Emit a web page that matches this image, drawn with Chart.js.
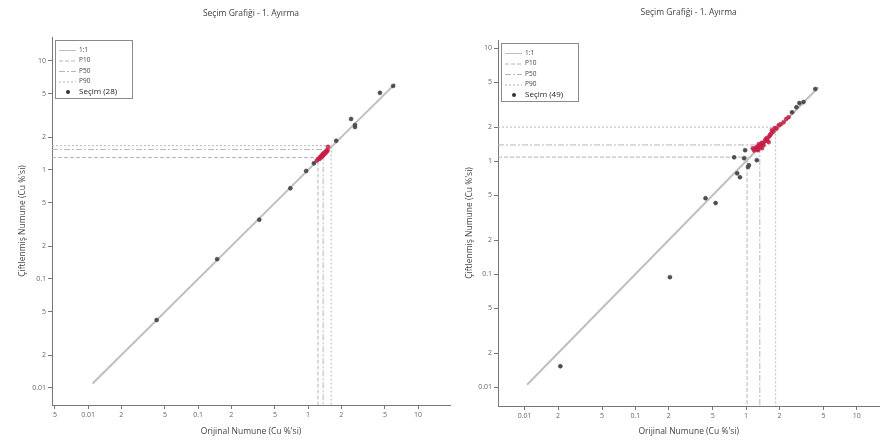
<!DOCTYPE html>
<html>
<head>
<meta charset="utf-8">
<script src="https://cdn.jsdelivr.net/npm/chart.js@4.4.1/dist/chart.umd.min.js"></script>
<style>
html, body { margin: 0; padding: 0; background: #fff; }
#wrap { position: relative; width: 884px; height: 443px; overflow: hidden; }
canvas { position: absolute; top: 0; }
</style>
</head>
<body>
<div id="wrap">
  <canvas id="c1" width="460" height="443" style="left:0"></canvas>
  <canvas id="c2" width="424" height="443" style="left:460px"></canvas>
</div>
<script>
const titleText = 'Seçim Grafiği - 1. Ayırma';
const xTitle = "Orijinal Numune (Cu %'si)";
const yTitle = "Çiftlenmiş Numune (Cu %'si)";
const tickValues = [0.005, 0.01, 0.02, 0.05, 0.1, 0.2, 0.5, 1, 2, 5, 10];
const tickLabels = ['5', '0.01', '2', '5', '0.1', '2', '5', '1', '2', '5', '10'];
const pLabels = ['P10', 'P50', 'P90'];

// grafik 1 (28 numune)
const s1X = [5.93, 4.5, 2.46, 2.67, 2.67, 1.8, 1.52, 0.96, 0.69, 0.36, 0.149, 0.042,
  1.20, 1.24, 1.27, 1.29, 1.31, 1.33, 1.35, 1.36, 1.38, 1.40, 1.42, 1.44, 1.46, 1.48, 1.50, 1.13];
const s1Y = [5.9, 5.1, 2.94, 2.59, 2.48, 1.85, 1.63, 0.98, 0.68, 0.35, 0.152, 0.042,
  1.22, 1.27, 1.26, 1.32, 1.30, 1.36, 1.34, 1.40, 1.37, 1.43, 1.41, 1.47, 1.45, 1.52, 1.50, 1.15];
const p1X = [1.23, 1.37, 1.62];
const p1Y = [1.30, 1.54, 1.67];
const line1 = [0.011, 6.2];

// grafik 2 (49 numune)
const s2X = [4.22, 3.3, 3.03, 2.85, 2.42, 2.18, 1.97, 1.81, 1.71, 1.64, 1.60, 1.54, 1.48, 1.42, 1.36, 1.31,
  1.25, 1.20, 1.15, 1.39, 1.28, 0.98, 0.78, 0.96, 1.25, 1.06, 1.04, 0.83, 0.88, 0.43, 0.53, 0.205, 0.021,
  1.18, 1.22, 1.27, 1.30, 1.34, 1.38, 1.44, 1.50, 1.56, 1.62, 1.68, 1.76, 1.88, 2.05, 2.3, 2.6];
const s2Y = [4.34, 3.33, 3.26, 3.0, 2.45, 2.21, 2.08, 1.96, 1.88, 1.70, 1.47, 1.60, 1.50, 1.44, 1.39, 1.36,
  1.33, 1.28, 1.30, 1.30, 1.25, 1.25, 1.08, 1.06, 1.02, 0.92, 0.885, 0.78, 0.72, 0.47, 0.425, 0.094, 0.0153,
  1.24, 1.30, 1.27, 1.41, 1.33, 1.45, 1.38, 1.56, 1.52, 1.65, 1.75, 1.83, 1.94, 2.12, 2.36, 2.7];
const p2X = [1.02, 1.33, 1.85];
const p2Y = [1.085, 1.39, 2.0];
const line2 = [0.0105, 4.5];

const family = '"Open Sans", "Liberation Sans", sans-serif';
const pDash = [[4, 2], [6, 2, 2, 2], [2, 2]];

// yogun bolgedeki noktalar kirmizi
function pointColors(xs, ys) {
  return xs.map((x, i) => {
    let n = 0;
    xs.forEach((x2, j) => {
      if (Math.abs(Math.log10(x / x2)) < 0.05 && Math.abs(Math.log10(ys[i] / ys[j])) < 0.05) n++;
    });
    return n >= 4 ? 'rgba(196,30,70,0.85)' : '#4d4d4d';
  });
}

const boxLegend = {
  id: 'boxLegend',
  afterDatasetsDraw(chart) {
    const { ctx, chartArea } = chart;
    const x0 = Math.round(chartArea.left) + 3, y0 = Math.round(chartArea.top) + 3;
    ctx.save();
    ctx.fillStyle = '#fff';
    ctx.fillRect(x0, y0, 77, 58);
    ctx.strokeStyle = '#8a8a8a';
    ctx.lineWidth = 1;
    ctx.strokeRect(x0 + 0.5, y0 + 0.5, 77, 58);
    ctx.textBaseline = 'middle';
    chart.data.datasets.forEach((ds, i) => {
      const y = y0 + 10 + i * 10.5;
      if (ds.showLine) {
        ctx.strokeStyle = ds.borderColor;
        ctx.lineWidth = 1;
        ctx.setLineDash(ds.borderDash || []);
        ctx.beginPath();
        ctx.moveTo(x0 + 4, y + 0.5);
        ctx.lineTo(x0 + 21, y + 0.5);
        ctx.stroke();
        ctx.setLineDash([]);
        ctx.fillStyle = '#444';
        ctx.font = '6.5px ' + family;
        ctx.fillText(ds.label, x0 + 24, y);
      } else {
        ctx.fillStyle = '#333';
        ctx.beginPath();
        ctx.arc(x0 + 13, y, 2, 0, Math.PI * 2);
        ctx.fill();
        ctx.fillStyle = '#222';
        ctx.font = '8px ' + family;
        ctx.fillText(ds.label, x0 + 24, y);
      }
    });
    ctx.restore();
  }
};

function axis(title, pos, min, max, size, titlePad) {
  return {
    type: 'logarithmic',
    position: pos,
    min: min,
    max: max,
    afterBuildTicks: s => {
      s.min = min;
      s.max = max;
      s.ticks = tickValues.filter(v => v >= min && v <= max).map(v => ({ value: v }));
    },
    afterFit: s => {
      if (pos === 'left') s.width = size; else s.height = size;
    },
    ticks: {
      color: '#666',
      font: { size: 7, family: family },
      padding: 2,
      autoSkip: false,
      maxRotation: 0,
      callback: v => tickLabels[tickValues.findIndex(t => Math.abs(t - v) < t * 1e-6)]
    },
    grid: { drawOnChartArea: false, drawTicks: true, tickLength: 4, color: '#777' },
    border: { display: true, color: '#777', width: 1 },
    title: {
      display: true,
      text: title,
      color: '#444',
      font: { size: 8.5, family: family },
      padding: titlePad
    }
  };
}

function makeChart(id, xs, ys, px, py, ends, cfg) {
  const pct = pLabels.map((lab, k) => ({
    label: lab,
    data: [{ x: cfg.xMin, y: py[k] }, { x: px[k], y: py[k] }, { x: px[k], y: cfg.yMin }],
    showLine: true,
    borderColor: '#b4b6c2',
    borderWidth: 1,
    borderDash: pDash[k],
    pointRadius: 0,
    order: 1
  }));
  const colors = pointColors(xs, ys);
  new Chart(document.getElementById(id), {
    type: 'scatter',
    data: {
      datasets: [
        {
          label: '1:1',
          data: ends.map(v => ({ x: v, y: v })),
          showLine: true,
          borderColor: 'rgba(170,170,170,0.75)',
          borderWidth: 2,
          pointRadius: 0,
          order: 2
        },
        ...pct,
        {
          label: 'Seçim (' + xs.length + ')',
          data: xs.map((x, i) => ({ x: x, y: ys[i] })),
          pointRadius: 2,
          pointBorderWidth: 0.6,
          backgroundColor: colors,
          borderColor: colors,
          order: 0
        }
      ]
    },
    options: {
      responsive: false,
      animation: false,
      layout: { padding: { right: cfg.right } },
      scales: {
        x: axis(xTitle, 'bottom', cfg.xMin, cfg.xMax, cfg.xh, { bottom: 6 }),
        y: axis(yTitle, 'left', cfg.yMin, cfg.yMax, cfg.yw, { top: cfg.yTitleTop })
      },
      plugins: {
        legend: { display: false },
        tooltip: { enabled: false },
        title: {
          display: true,
          text: titleText,
          fullSize: false,
          color: '#444',
          font: { size: 8.5, family: family, weight: 'normal' },
          padding: { top: cfg.tTop, bottom: cfg.tBottom }
        }
      }
    },
    plugins: [boxLegend]
  });
}

makeChart('c1', s1X, s1Y, p1X, p1Y, line1, {
  xMin: 0.0047, xMax: 19.5, yMin: 0.00698, yMax: 16.6,
  yw: 52, xh: 38, right: 10, yTitleTop: 17, tTop: 8, tBottom: 18.8
});
makeChart('c2', s2X, s2Y, p2X, p2Y, line2, {
  xMin: 0.00574, xMax: 16.0, yMin: 0.0068, yMax: 11.8,
  yw: 38, xh: 37, right: 0, yTitleTop: 4, tTop: 7, tBottom: 22.8
});
</script>
</body>
</html>
